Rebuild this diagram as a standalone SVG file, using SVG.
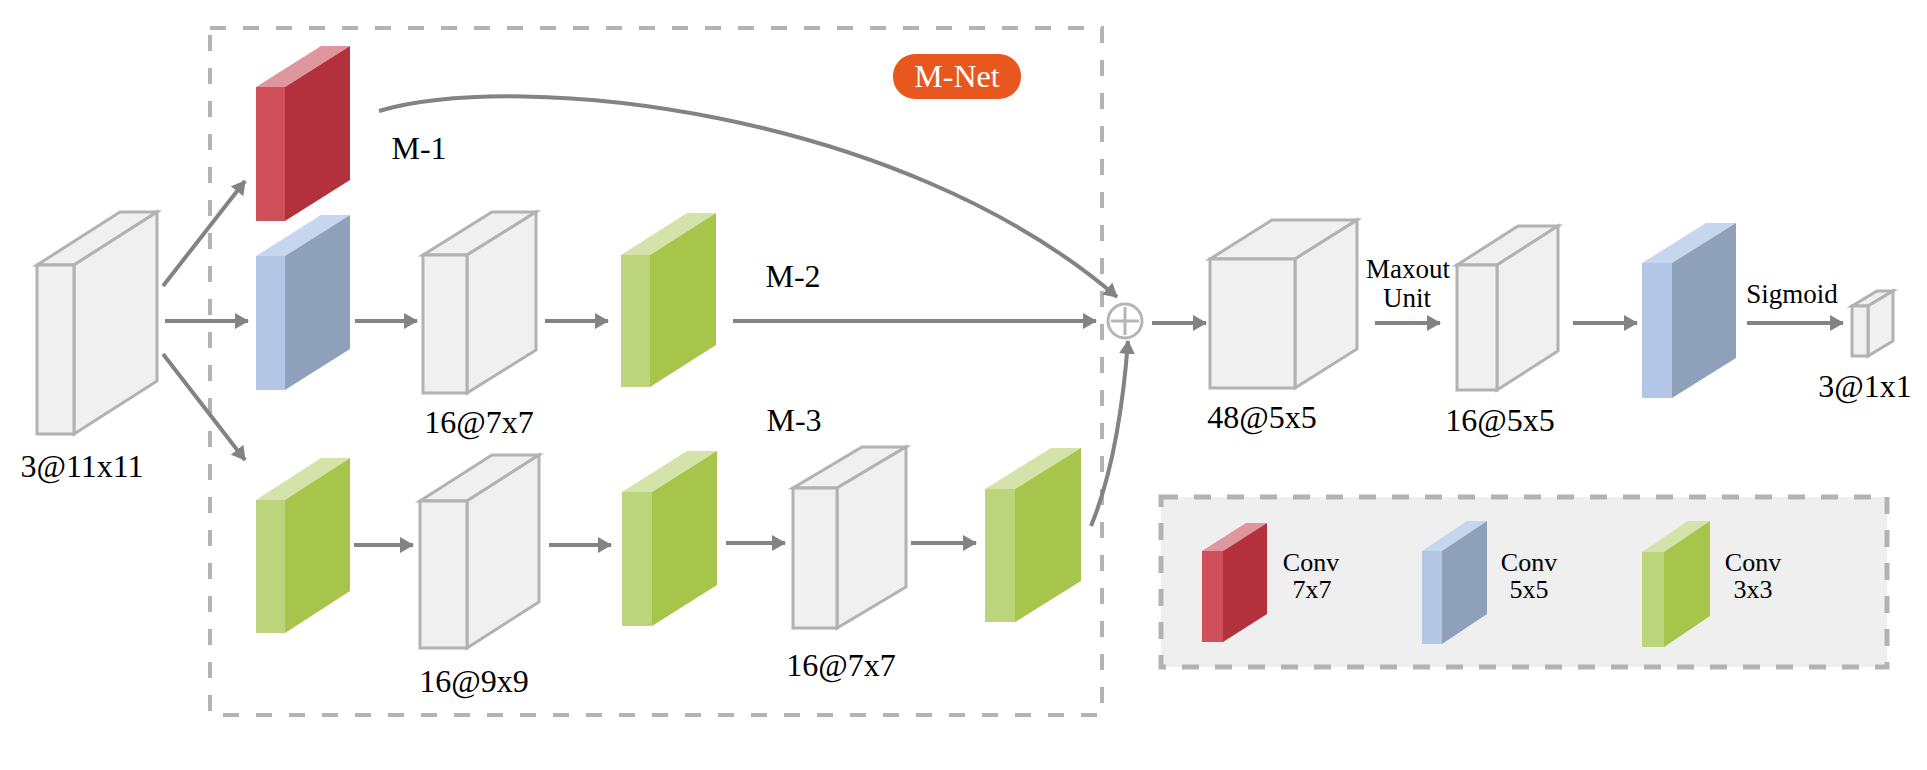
<svg xmlns="http://www.w3.org/2000/svg" width="1927" height="770" viewBox="0 0 1927 770">
<style>
.lbl{font-family:"Liberation Serif","Times New Roman","DejaVu Serif",serif;font-size:32px;fill:#000;text-anchor:middle}
.sm{font-size:27px}
.lg{font-size:26px}
.wf{fill:#f0f0f0;stroke:#b2b2b2;stroke-width:3;stroke-linejoin:miter}
.rF{fill:#cf505b}.rS{fill:#b3313d}.rT{fill:#e0969d}
.bF{fill:#b3c6e5}.bS{fill:#8fa0ba}.bT{fill:#c6d6ee}
.gF{fill:#bcd47c}.gS{fill:#a7c44b}.gT{fill:#d4e3aa}
.con{fill:none;stroke:#838383;stroke-width:4}
.dash{fill:none;stroke:#b3b3b3;stroke-width:4;stroke-dasharray:16 17}
</style>
<defs>
<marker id="ah" markerUnits="userSpaceOnUse" viewBox="0 0 14 16" refX="13" refY="8" markerWidth="14" markerHeight="16" orient="auto">
<path d="M0,0 L14,8 L0,16 z" fill="#838383"/>
</marker>
</defs>

<g id="mnet-box">
<rect x="210" y="28" width="892" height="687" class="dash"/>
</g>
<g id="mnet-tag">
<rect x="893" y="54" width="128" height="45" rx="22" fill="#e8581e"/>
<text x="957" y="87" class="lbl" style="fill:#fff">M-Net</text>
</g>

<g id="legend">
<rect x="1161" y="497" width="726" height="170" fill="#efefef" stroke="#b3b3b3" stroke-width="5" stroke-dasharray="17 16"/>
<g id="legend-red">
<polygon class="rT" points="1202,551 1223,551 1267,523 1246,523"/>
<polygon class="rS" points="1223,551 1267,523 1267,614 1223,642"/>
<rect class="rF" x="1202" y="551" width="21" height="91"/>
<text x="1311" y="571" class="lbl lg">Conv</text>
<text x="1312" y="598" class="lbl lg">7x7</text>
</g>
<g id="legend-blue">
<polygon class="bT" points="1422,551 1442,551 1487,521 1467,521"/>
<polygon class="bS" points="1442,551 1487,521 1487,614 1442,644"/>
<rect class="bF" x="1422" y="551" width="20" height="93"/>
<text x="1529" y="571" class="lbl lg">Conv</text>
<text x="1529" y="598" class="lbl lg">5x5</text>
</g>
<g id="legend-green">
<polygon class="gT" points="1642,552 1664,552 1710,521 1688,521"/>
<polygon class="gS" points="1664,552 1710,521 1710,616 1664,647"/>
<rect class="gF" x="1642" y="552" width="22" height="95"/>
<text x="1753" y="571" class="lbl lg">Conv</text>
<text x="1753" y="598" class="lbl lg">3x3</text>
</g>
</g>

<g id="input">
<polygon class="wf" points="37,265 74,265 157,212 120,212"/>
<polygon class="wf" points="74,265 157,212 157,381 74,434"/>
<rect class="wf" x="37" y="265" width="37" height="169"/>
<text x="82" y="477" class="lbl">3@11x11</text>
</g>

<g id="red-conv">
<polygon class="rT" points="256,87 285,87 350,46 321,46"/>
<polygon class="rS" points="285,87 350,46 350,180 285,221"/>
<rect class="rF" x="256" y="87" width="29" height="134"/>
</g>
<text x="419" y="159" class="lbl">M-1</text>

<g id="blue-conv">
<polygon class="bT" points="256,256 285,256 350,215 321,215"/>
<polygon class="bS" points="285,256 350,215 350,349 285,390"/>
<rect class="bF" x="256" y="256" width="29" height="134"/>
</g>

<g id="m2-feat">
<polygon class="wf" points="423,255 467,255 536,212 492,212"/>
<polygon class="wf" points="467,255 536,212 536,350 467,393"/>
<rect class="wf" x="423" y="255" width="44" height="138"/>
<text x="479" y="433" class="lbl">16@7x7</text>
</g>

<g id="m2-green">
<polygon class="gT" points="621,255 650,255 716,213 687,213"/>
<polygon class="gS" points="650,255 716,213 716,345 650,387"/>
<rect class="gF" x="621" y="255" width="29" height="132"/>
</g>
<text x="793" y="287" class="lbl">M-2</text>
<text x="794" y="431" class="lbl">M-3</text>

<g id="m3-green1">
<polygon class="gT" points="256,500 285,500 350,458 321,458"/>
<polygon class="gS" points="285,500 350,458 350,591 285,633"/>
<rect class="gF" x="256" y="500" width="29" height="133"/>
</g>

<g id="m3-feat1">
<polygon class="wf" points="420,501 467,501 539,455 492,455"/>
<polygon class="wf" points="467,501 539,455 539,602 467,648"/>
<rect class="wf" x="420" y="501" width="47" height="147"/>
<text x="474" y="692" class="lbl">16@9x9</text>
</g>

<g id="m3-green2">
<polygon class="gT" points="622,492 652,492 717,451 687,451"/>
<polygon class="gS" points="652,492 717,451 717,585 652,626"/>
<rect class="gF" x="622" y="492" width="30" height="134"/>
</g>

<g id="m3-feat2">
<polygon class="wf" points="793,488 837,488 906,447 862,447"/>
<polygon class="wf" points="837,488 906,447 906,587 837,628"/>
<rect class="wf" x="793" y="488" width="44" height="140"/>
<text x="841" y="676" class="lbl">16@7x7</text>
</g>

<g id="m3-green3">
<polygon class="gT" points="985,489 1015,489 1081,448 1051,448"/>
<polygon class="gS" points="1015,489 1081,448 1081,581 1015,622"/>
<rect class="gF" x="985" y="489" width="30" height="133"/>
</g>

<g id="sum">
<circle cx="1125" cy="321" r="17" fill="#fff" stroke="#b5b5b5" stroke-width="3"/>
<path d="M1125,307 V335 M1111,321 H1139" stroke="#b5b5b5" stroke-width="3"/>
</g>

<g id="feat48">
<polygon class="wf" points="1210,259 1295,259 1357,220 1272,220"/>
<polygon class="wf" points="1295,259 1357,220 1357,349 1295,388"/>
<rect class="wf" x="1210" y="259" width="85" height="129"/>
<text x="1262" y="428" class="lbl">48@5x5</text>
</g>

<g id="feat16">
<polygon class="wf" points="1457,265 1497,265 1558,226 1518,226"/>
<polygon class="wf" points="1497,265 1558,226 1558,351 1497,390"/>
<rect class="wf" x="1457" y="265" width="40" height="125"/>
<text x="1500" y="431" class="lbl">16@5x5</text>
</g>

<g id="blue-out">
<polygon class="bT" points="1642,263 1672,263 1736,223 1706,223"/>
<polygon class="bS" points="1672,263 1736,223 1736,358 1672,398"/>
<rect class="bF" x="1642" y="263" width="30" height="135"/>
</g>

<g id="output">
<polygon class="wf" points="1852,306 1868,306 1893,291 1877,291"/>
<polygon class="wf" points="1868,306 1893,291 1893,341 1868,356"/>
<rect class="wf" x="1852" y="306" width="16" height="50"/>
<text x="1865" y="397" class="lbl">3@1x1</text>
</g>

<text x="1408" y="278" class="lbl sm">Maxout</text>
<text x="1407" y="307" class="lbl sm">Unit</text>
<text x="1792" y="303" class="lbl sm">Sigmoid</text>

<g id="connectors">
<line class="con" x1="163" y1="286" x2="245" y2="181" marker-end="url(#ah)"/>
<line class="con" x1="165" y1="321" x2="248" y2="321" marker-end="url(#ah)"/>
<line class="con" x1="163" y1="354" x2="245" y2="460" marker-end="url(#ah)"/>
<line class="con" x1="355" y1="321" x2="417" y2="321" marker-end="url(#ah)"/>
<line class="con" x1="545" y1="321" x2="608" y2="321" marker-end="url(#ah)"/>
<line class="con" x1="733" y1="321" x2="1096" y2="321" marker-end="url(#ah)"/>
<line class="con" x1="354" y1="545" x2="413" y2="545" marker-end="url(#ah)"/>
<line class="con" x1="549" y1="545" x2="611" y2="545" marker-end="url(#ah)"/>
<line class="con" x1="726" y1="543" x2="785" y2="543" marker-end="url(#ah)"/>
<line class="con" x1="911" y1="543" x2="976" y2="543" marker-end="url(#ah)"/>
<path class="con" d="M379,111 C520,70 900,110 1117,297" marker-end="url(#ah)"/>
<path class="con" d="M1091,526 C1110,480 1122,420 1128,341" marker-end="url(#ah)"/>
<line class="con" x1="1152" y1="323" x2="1206" y2="323" marker-end="url(#ah)"/>
<line class="con" x1="1375" y1="323" x2="1440" y2="323" marker-end="url(#ah)"/>
<line class="con" x1="1573" y1="323" x2="1637" y2="323" marker-end="url(#ah)"/>
<line class="con" x1="1747" y1="323" x2="1843" y2="323" marker-end="url(#ah)"/>
</g>
</svg>
